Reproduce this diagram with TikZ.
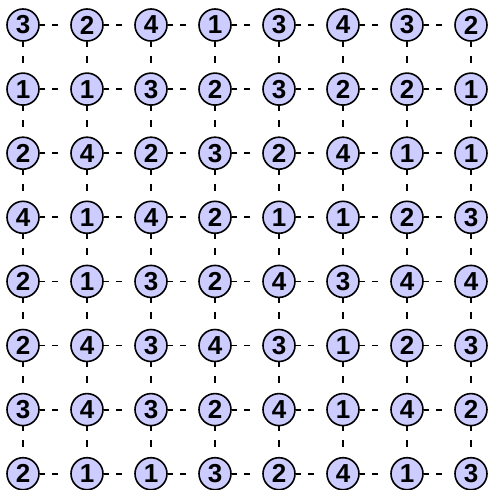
\documentclass[tikz,border=0pt]{standalone}
\usepackage{fontspec}
\setmainfont{Liberation Sans}
\definecolor{lav}{RGB}{204,204,255}
\begin{document}
\begin{tikzpicture}[x=1pt,y=1pt,
  cell/.style={circle,draw=black,line width=1.6pt,fill=lav,minimum size=32pt,inner sep=0pt,
    font=\fontsize{26}{26}\selectfont\bfseries},
  hconn/.style={line width=1.8pt,dash pattern=on 5pt off 7pt on 6pt off 20pt},
  vconn/.style={line width=1.8pt,dash pattern=on 5pt off 9pt on 7pt off 20pt}]
\useasboundingbox[fill=white] (0,0) rectangle (488,-490);
\foreach \r/\vals in {0/{3,2,4,1,3,4,3,2},1/{1,1,3,2,3,2,2,1},2/{2,4,2,3,2,4,1,1},3/{4,1,4,2,1,1,2,3},
  4/{2,1,3,2,4,3,4,4},5/{2,4,3,4,3,1,2,3},6/{3,4,3,2,4,1,4,2},7/{2,1,1,3,2,4,1,3}}{
  \foreach \v [count=\c from 0] in \vals {
    \node[cell] (n-\r-\c) at ({23+64*\c},{-(25+64.1*\r)}) {\v};
  }
}
\foreach \r in {0,...,7}{
  \foreach \c [evaluate=\c as \cc using int(\c+1)] in {0,...,6}{
    \draw[hconn] (n-\r-\c.east) -- (n-\r-\cc.west);
  }
}
\foreach \r [evaluate=\r as \rr using int(\r+1)] in {0,...,6}{
  \foreach \c in {0,...,7}{
    \draw[vconn] (n-\r-\c.south) -- (n-\rr-\c.north);
  }
}
\end{tikzpicture}
\end{document}
